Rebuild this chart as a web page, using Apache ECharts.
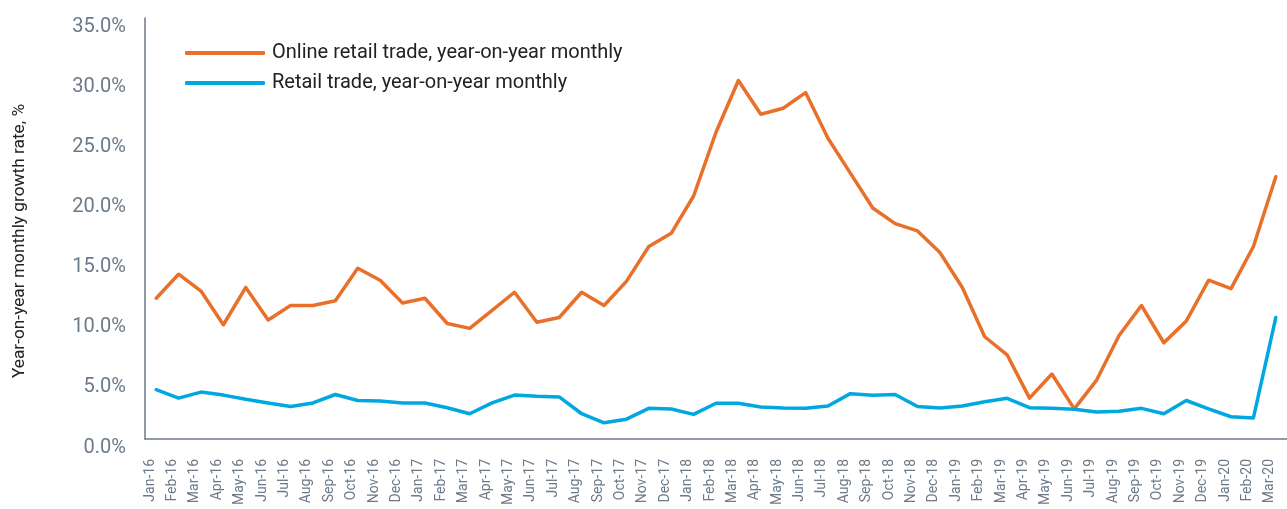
<!DOCTYPE html>
<html>
<head>
<meta charset="utf-8">
<script src="https://cdn.jsdelivr.net/npm/echarts@6/dist/echarts.min.js"></script>
<style>
html,body{margin:0;padding:0;background:#fff;}
#chart{width:1287px;height:509px;}
</style>
</head>
<body>
<div id="chart"></div>
<script>
const categories = ["Jan-16","Feb-16","Mar-16","Apr-16","May-16","Jun-16","Jul-16","Aug-16","Sep-16","Oct-16","Nov-16","Dec-16",
"Jan-17","Feb-17","Mar-17","Apr-17","May-17","Jun-17","Jul-17","Aug-17","Sep-17","Oct-17","Nov-17","Dec-17",
"Jan-18","Feb-18","Mar-18","Apr-18","May-18","Jun-18","Jul-18","Aug-18","Sep-18","Oct-18","Nov-18","Dec-18",
"Jan-19","Feb-19","Mar-19","Apr-19","May-19","Jun-19","Jul-19","Aug-19","Sep-19","Oct-19","Nov-19","Dec-19",
"Jan-20","Feb-20","Mar-20"];
const onlineRetail = [11.7,13.7,12.3,9.5,12.6,9.9,11.1,11.1,11.5,14.2,13.2,11.3,
11.7,9.6,9.2,10.7,12.2,9.7,10.1,12.2,11.1,13.1,16.0,17.1,
20.2,25.5,29.8,27.0,27.5,28.8,25.0,22.1,19.2,17.9,17.3,15.5,
12.6,8.5,7.0,3.4,5.4,2.5,4.9,8.6,11.1,8.0,9.8,13.2,
12.5,16.0,21.8];
const retail = [4.1,3.4,3.9,3.65,3.3,3.0,2.7,3.0,3.7,3.2,3.15,3.0,
3.0,2.6,2.1,3.0,3.65,3.55,3.5,2.1,1.35,1.65,2.55,2.5,
2.05,2.97,2.97,2.66,2.58,2.55,2.75,3.77,3.63,3.7,2.7,2.58,
2.74,3.1,3.38,2.6,2.55,2.47,2.24,2.3,2.55,2.1,3.2,2.5,
1.85,1.75,10.1];
const yTicks = {min:0, max:35, interval:5};
const seriesNames = ["Online retail trade, year-on-year monthly","Retail trade, year-on-year monthly"];
const yTitle = "Year-on-year monthly growth rate, %";

const chart = echarts.init(document.getElementById('chart'), null, {renderer:'canvas'});
const axisColor = '#6b7a89';
chart.setOption({
  animation:false,
  backgroundColor:'#ffffff',
  textStyle:{fontFamily:'Roboto'},
  grid:{left:145, right:-10, top:18, bottom:70, containLabel:false},
  legend:{
    orient:'vertical', left:180, top:38, itemWidth:80, itemHeight:4, itemGap:10,
    icon:'roundRect',
    textStyle:{fontFamily:'Roboto', fontSize:20, color:'#222222', padding:[0,0,0,2]},
    data:seriesNames
  },
  graphic:[{
    type:'text', x:20, y:241, rotation:Math.PI/2,
    style:{text:yTitle, fontFamily:'Roboto', fontSize:17.3, fill:'#222222', align:'center', verticalAlign:'middle'}
  }],
  xAxis:{
    type:'category', data:categories, boundaryGap:true,
    axisLine:{lineStyle:{color:axisColor, width:1.5}},
    axisTick:{show:false},
    axisLabel:{rotate:90, interval:0, fontSize:14, color:'#6b7a89', margin:20, verticalAlign:'bottom', lineHeight:12},
    splitLine:{show:false}
  },
  yAxis:{
    type:'value', min:yTicks.min, max:yTicks.max, interval:yTicks.interval,
    axisLine:{show:true, lineStyle:{color:axisColor, width:1.5}},
    axisTick:{show:false},
    splitLine:{show:false},
    axisLabel:{fontSize:20, color:'#6b7a89', margin:19, verticalAlign:'top', lineHeight:17,
      formatter:v=>v.toFixed(1)+'%'}
  },
  series:[
    {name:seriesNames[0], type:'line', data:onlineRetail, symbol:'none', smooth:false,
     lineStyle:{color:'#e8702a', width:3.5, cap:'round', join:'round'}, itemStyle:{color:'#e8702a'}},
    {name:seriesNames[1], type:'line', data:retail, symbol:'none', smooth:false,
     lineStyle:{color:'#00a8e1', width:3.5, cap:'round', join:'round'}, itemStyle:{color:'#00a8e1'}}
  ]
});
</script>
</body>
</html>
